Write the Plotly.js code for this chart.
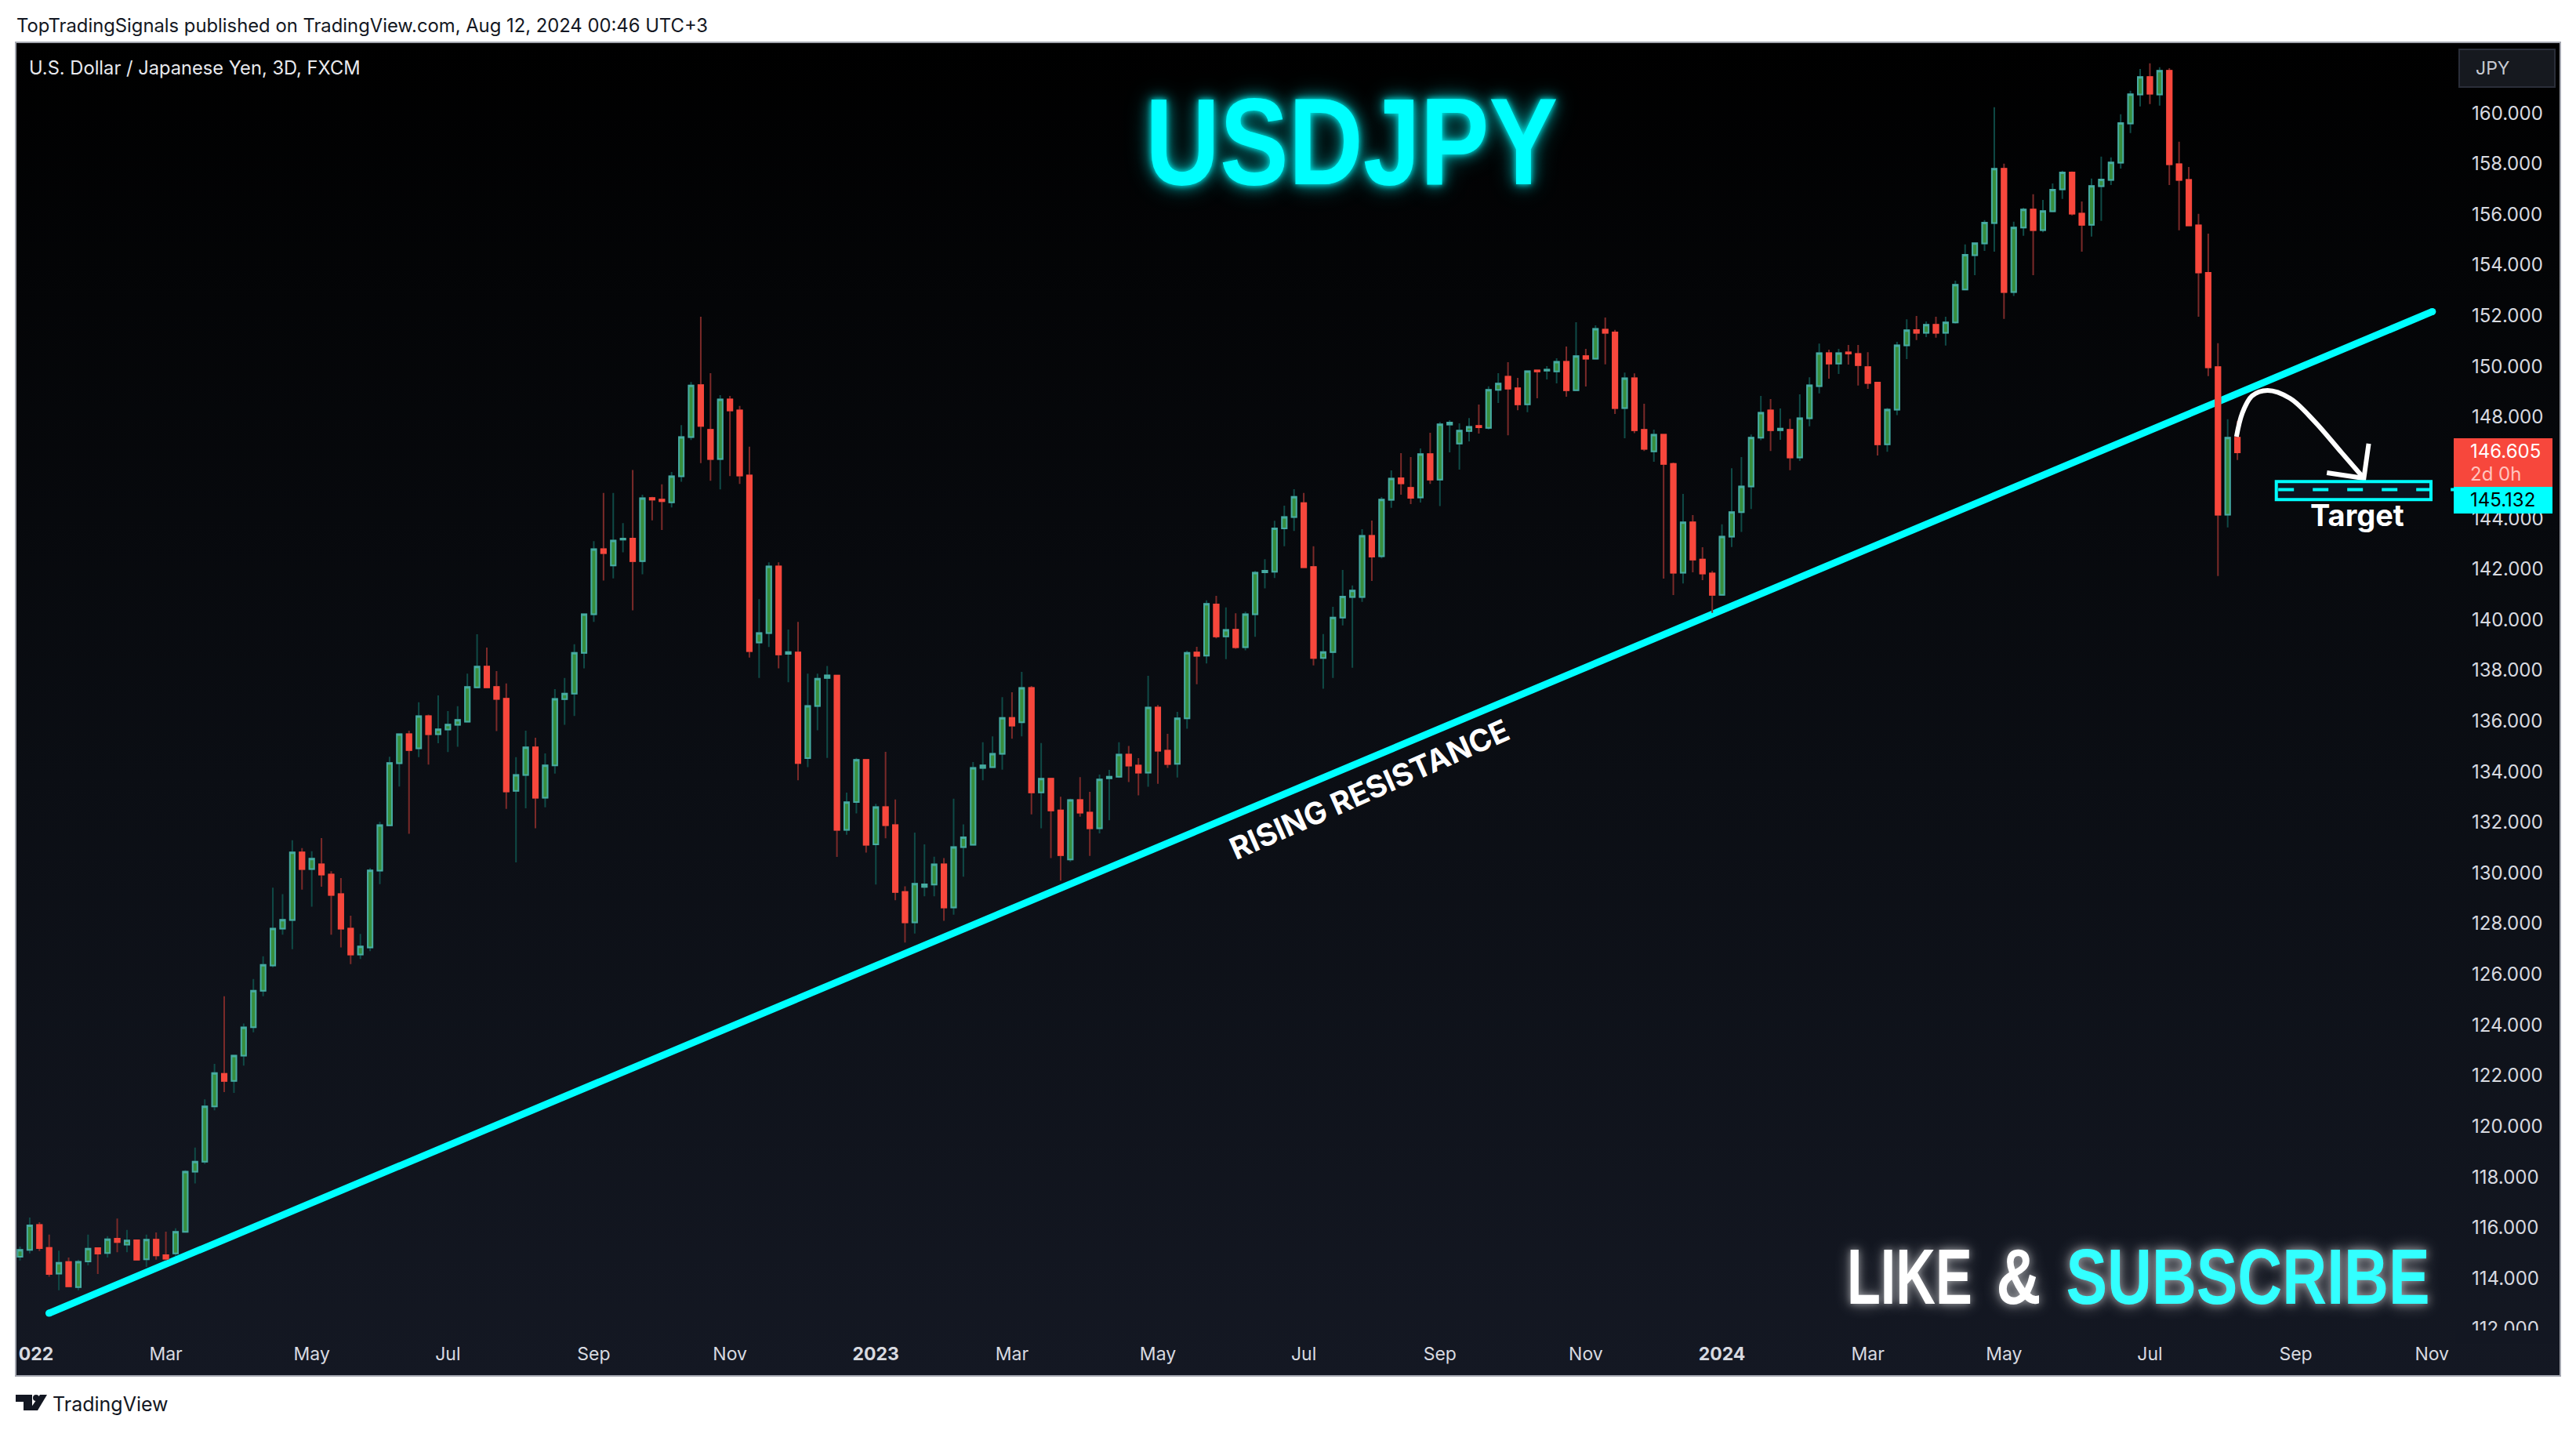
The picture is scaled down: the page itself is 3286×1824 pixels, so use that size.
<!DOCTYPE html>
<html>
<head>
<meta charset="utf-8">
<title>USDJPY</title>
<script src="https://cdn.plot.ly/plotly-3.0.1.min.js"></script>
<style>
html,body{margin:0;padding:0;width:3286px;height:1824px;background:#fff;overflow:hidden}
#panel{position:absolute;left:19px;top:53px;width:3244px;height:1699px;border:2px solid #a3a6af;background:linear-gradient(#000 0%,#0b0e14 55%,#141823 100%)}
#chart{position:absolute;left:0;top:0;width:3286px;height:1824px}
</style>
</head>
<body>
<div id="panel"></div>
<div id="chart"></div>
<script>
const opens=[
114.85,115.12,116.10,115.20,114.18,114.64,113.65,114.66,115.19,115.00,
115.56,115.33,115.50,114.75,115.52,114.91,114.98,115.83,118.21,118.60,
120.78,122.07,121.79,122.79,123.91,125.35,126.35,127.80,128.14,130.81,
130.15,130.34,129.94,129.16,127.80,126.78,127.06,130.09,131.88,134.33,
135.48,134.92,136.19,135.48,135.66,135.85,135.97,137.33,138.15,137.34,
136.88,133.24,133.87,134.96,132.97,134.25,136.86,137.08,138.69,140.21,
142.78,142.14,143.16,143.20,142.31,144.80,144.74,144.63,145.66,147.21,
149.26,147.49,146.34,148.69,148.26,145.69,139.10,139.47,142.10,138.65,
138.70,134.53,136.59,137.70,137.79,131.70,132.80,134.46,131.13,132.60,
131.89,129.25,128.05,129.45,129.54,130.34,128.64,131.02,131.11,134.15,
134.18,134.70,136.12,135.95,137.30,133.18,133.72,132.47,130.53,132.88,
132.38,131.76,133.74,133.80,134.67,134.24,133.96,136.53,134.83,134.31,
136.10,138.70,138.58,140.60,139.34,139.60,138.91,140.21,141.87,141.89,
143.60,144.05,144.60,142.08,138.49,138.72,140.08,140.89,140.89,143.31,
142.50,144.73,145.58,145.20,144.82,146.53,145.53,147.70,146.95,147.45,
147.65,147.57,149.07,149.59,149.13,148.50,149.84,149.83,149.80,150.18,
149.06,150.40,150.30,151.45,151.34,148.35,149.53,147.49,146.64,147.30,
146.15,141.85,143.84,142.37,141.82,140.98,143.28,144.24,145.26,147.18,
148.26,147.48,147.49,146.40,147.95,149.22,150.52,150.11,150.55,150.49,
149.97,149.36,146.92,148.29,150.83,151.43,151.32,151.64,151.32,151.73,
153.03,154.39,154.85,155.66,157.80,152.93,155.48,156.19,155.38,156.12,
156.99,157.65,156.03,155.59,157.11,157.36,158.04,159.59,160.73,161.42,
160.73,161.67,157.98,157.36,155.56,153.69,149.97,144.14,147.18];
const highs=[
115.25,116.40,116.21,115.72,115.09,114.82,114.73,115.72,115.19,115.66,
116.36,115.91,115.50,115.72,115.81,115.84,115.97,118.27,119.16,121.06,
122.46,125.13,122.79,124.06,125.81,126.71,129.42,129.16,131.29,130.98,
130.86,131.38,130.07,129.80,128.31,127.59,130.19,132.02,134.59,135.48,
135.62,136.74,136.25,137.01,136.39,136.58,137.87,139.42,138.90,137.97,
137.48,134.57,135.62,135.34,134.72,137.26,137.70,139.03,140.21,143.10,
145.00,145.00,143.81,145.91,144.93,144.85,145.34,145.83,147.68,149.38,
151.96,149.73,148.86,148.83,148.44,146.83,140.81,142.26,142.26,139.61,
139.91,137.87,137.87,138.17,137.79,133.17,134.54,134.46,132.73,134.78,
132.90,129.47,131.59,131.13,130.64,130.59,132.93,131.92,134.38,135.16,
135.39,136.94,137.13,137.94,137.38,135.13,133.75,133.01,132.93,133.78,
133.20,133.88,134.07,135.16,135.01,134.53,137.78,136.63,135.49,136.36,
138.77,138.93,140.76,140.94,140.48,140.25,140.31,141.92,142.39,143.90,
144.50,145.15,145.00,142.90,139.43,140.51,141.96,141.35,143.57,143.91,
144.84,145.89,146.57,146.42,146.76,147.38,147.80,147.87,147.75,147.96,
148.49,149.21,149.73,150.16,149.54,149.84,149.86,150.01,150.32,150.78,
151.74,150.69,151.62,151.93,151.44,149.75,149.72,148.52,147.50,147.31,
146.20,144.96,144.13,142.86,141.92,143.76,145.98,146.42,147.31,148.83,
148.71,148.34,147.93,148.89,149.57,150.90,150.66,150.69,150.84,150.84,
150.56,149.39,148.36,150.97,151.86,151.99,151.77,151.96,151.96,153.38,
154.81,154.86,155.77,160.23,158.00,155.71,156.26,156.79,156.57,157.22,
157.72,157.69,156.51,157.41,158.28,158.25,159.95,160.88,161.74,161.96,
161.81,161.77,158.87,157.87,156.02,155.24,150.91,147.91,147.84];
const lows=[
114.70,114.98,115.07,114.06,113.53,113.65,113.53,114.51,114.17,114.82,
115.03,115.03,114.73,114.45,114.73,114.70,114.88,115.81,117.74,118.51,
120.63,121.35,121.32,122.39,123.71,125.13,126.28,127.56,126.99,129.34,
128.67,129.46,127.56,127.06,126.40,126.60,126.91,129.56,131.88,133.41,
131.55,134.57,134.28,135.12,134.77,134.98,135.97,137.33,137.33,135.60,
132.53,130.42,132.55,131.76,132.59,133.92,135.85,136.20,138.08,139.91,
141.54,141.63,142.66,140.37,141.79,143.92,143.54,144.43,145.44,147.09,
146.18,145.48,145.14,145.67,145.36,138.50,137.70,138.92,138.08,137.53,
133.66,134.18,135.63,134.54,130.63,131.51,132.35,130.80,129.54,131.37,
128.92,127.25,127.61,129.08,129.08,128.11,128.35,129.85,131.11,133.66,
134.18,134.08,135.30,135.39,132.31,131.76,130.59,129.70,130.44,132.22,
130.67,131.56,132.08,133.75,133.59,133.06,133.40,133.52,134.15,133.77,
135.69,137.45,138.27,139.26,138.44,138.85,138.79,139.32,141.23,141.64,
142.90,143.50,142.07,138.19,137.27,137.70,139.77,138.10,140.70,141.53,
142.42,144.41,144.93,144.56,144.62,145.36,144.48,146.60,145.92,147.04,
147.35,147.51,148.55,147.28,148.27,148.19,148.74,149.48,149.33,148.80,
149.03,149.20,150.30,150.08,148.12,147.16,147.36,146.66,146.23,141.62,
140.97,141.43,141.87,141.56,140.27,140.98,142.87,143.46,144.37,147.08,
146.66,147.10,145.90,146.26,147.63,148.93,149.51,149.70,150.07,149.24,
149.11,146.48,146.63,148.07,150.29,151.04,151.15,151.13,150.82,151.69,
153.00,153.60,154.56,154.53,151.87,152.78,155.15,153.60,155.29,156.09,
156.61,155.96,154.53,155.12,155.74,157.16,157.81,159.21,160.26,160.35,
160.29,157.16,155.37,155.56,151.96,149.61,141.72,143.64,146.30];
const closes=[
115.12,116.09,115.19,114.17,114.61,113.68,114.65,115.17,114.97,115.54,
115.43,115.49,114.73,115.52,114.90,114.77,115.83,118.21,118.60,120.78,
122.10,121.79,122.79,123.90,125.35,126.37,127.80,128.15,130.81,130.15,
130.56,129.94,129.13,127.80,126.78,127.10,130.10,131.89,134.34,135.48,
134.85,136.19,135.48,135.67,135.86,136.04,137.34,138.15,137.33,136.87,
133.22,133.87,134.96,132.97,134.25,136.87,137.08,138.69,140.21,142.78,
142.63,143.12,143.20,142.31,144.79,144.74,144.68,145.66,147.21,149.24,
147.65,146.34,148.69,148.26,145.69,138.76,139.47,142.10,138.63,138.72,
134.34,136.59,137.67,137.80,131.70,132.79,134.46,131.11,132.60,131.89,
129.25,128.05,129.57,129.55,130.34,128.64,131.02,131.41,134.15,134.25,
134.70,136.12,135.82,137.30,133.18,133.72,132.47,130.70,132.88,132.38,
131.76,133.69,133.80,134.67,134.24,133.96,136.53,134.83,134.30,136.10,
138.69,138.57,140.62,139.34,139.59,138.91,140.21,141.85,141.93,143.60,
144.05,144.85,142.07,138.49,138.72,140.08,140.91,141.15,143.31,142.49,
144.74,145.57,145.38,144.81,146.53,145.53,147.71,147.78,147.46,147.61,
147.59,149.07,149.32,149.12,148.50,149.81,149.80,149.87,150.18,149.06,
150.40,150.30,151.48,151.32,148.35,149.53,147.48,146.74,147.30,146.15,
141.85,143.84,142.37,141.82,140.98,143.28,144.24,145.26,147.18,148.17,
147.48,147.54,146.40,147.95,149.25,150.52,150.11,150.52,150.50,150.05,
149.34,146.92,148.29,150.83,151.42,151.32,151.64,151.32,151.73,153.22,
154.40,154.86,155.67,157.80,152.93,155.48,156.19,155.38,156.13,156.97,
157.65,156.03,155.59,157.12,157.37,158.05,159.60,160.74,161.42,160.76,
161.67,157.98,157.36,155.56,153.71,149.96,144.14,147.18,146.605];

const tickVals=[1.65,15,30,44,59,73,88,102,117,132,146,161,175,190,204,219,234,248];
const tickLabels=['<b>022</b>','Mar','May','Jul','Sep','Nov','<b>2023</b>','Mar','May','Jul','Sep','Nov','<b>2024</b>','Mar','May','Jul','Sep','Nov'];
const priceTicks=[112,114,116,118,120,122,124,126,128,130,132,134,136,138,140,142,144,148,150,152,154,156,158,160];
const trendX=[2.98,248.05];
const trendY=[112.62,152.16];
const arrowX=[227.9,228.5,229.5,231.1,233.4,235.9,238.7,241.0];
const arrowY=[147.22,148.15,148.83,149.05,148.74,147.84,146.60,145.58];
const headX=[241.5,241.0,237.2];
const headY=[146.95,145.58,145.80];
const targetX=[232.0,247.9];
const targetY=[144.74,145.45];
const targetPrice=145.132;

const L=20,R=3130,T=54,B=1697;
const px=x=>(x-L)/(R-L), py=y=>(B-y)/(B-T);
const idx=opens.map((_,i)=>i);
const FONT='Inter, "Noto Sans", sans-serif';
const DISPLAY='"Liberation Sans", sans-serif';

const wicks={type:'candlestick',x:idx,open:opens,high:highs,low:lows,close:closes,width:0.62,whiskerwidth:0,hoverinfo:'skip',showlegend:false,
 increasing:{line:{color:'#0f4a46',width:2},fillcolor:'rgba(0,0,0,0)'},
 decreasing:{line:{color:'#7b2a29',width:2},fillcolor:'rgba(0,0,0,0)'}};
const bodies={type:'candlestick',x:idx,open:opens,close:closes,
 high:opens.map((o,i)=>Math.max(o,closes[i])),low:opens.map((o,i)=>Math.min(o,closes[i])),
 width:0.62,whiskerwidth:0,hoverinfo:'skip',showlegend:false,
 increasing:{line:{color:'#47aba2',width:2},fillcolor:'#388e3c'},
 decreasing:{line:{color:'#f7473c',width:2},fillcolor:'#f7473c'}};
const arrow={type:'scatter',mode:'lines',x:arrowX,y:arrowY,line:{color:'#fff',width:6,shape:'spline',smoothing:1},hoverinfo:'skip',showlegend:false};
const head={type:'scatter',mode:'lines',x:headX,y:headY,line:{color:'#fff',width:6},hoverinfo:'skip',showlegend:false};

function rectPx(x0,y0,x1,y1,fill,line){return {type:'rect',xref:'paper',yref:'paper',layer:'above',x0:px(x0),x1:px(x1),y0:py(y0),y1:py(y1),fillcolor:fill,line:line||{width:0}};}
function pathPx(pts,fill){return {type:'path',xref:'paper',yref:'paper',layer:'above',fillcolor:fill,line:{width:0},
 path:pts.map((p,i)=>(i?'L':'M')+px(p[0])+','+py(p[1])).join(' ')+' Z'};}
function capShape(x,y){return {type:'circle',layer:'below',xref:'x',yref:'y',xsizemode:'pixel',ysizemode:'pixel',xanchor:x,yanchor:y,x0:-4.5,x1:4.5,y0:-4.5,y1:4.5,fillcolor:'#00ffff',line:{width:0}};}

const shapes=[
 {type:'line',layer:'below',xref:'x',yref:'y',x0:trendX[0],x1:trendX[1],y0:trendY[0],y1:trendY[1],line:{color:'#00ffff',width:9}},
 capShape(trendX[0],trendY[0]),capShape(trendX[1],trendY[1]),
 {type:'rect',layer:'above',xref:'x',yref:'y',x0:targetX[0],x1:targetX[1],y0:targetY[0],y1:targetY[1],fillcolor:'#0c1420',line:{color:'#00ffff',width:4}},
 {type:'line',layer:'above',xref:'x',yref:'y',x0:232.2,x1:250.24,y0:targetPrice,y1:targetPrice,line:{color:'#00ffff',width:4,dash:'20px,24px'}},
 rectPx(3130,559,3256,622,'#f7473c'),
 rectPx(3130,621,3256,655,'#00ffff'),
 rectPx(3137,63,3259,111,'#16191f',{color:'#2a2e39',width:2}),
 rectPx(3132,1697,3262,1714,'#131722'),
 pathPx([[20,1779],[41,1779],[41,1799],[30,1799],[30,1788],[20,1788]],'#131722'),
 pathPx([[51,1779],[60,1779],[48,1799],[37,1799]],'#131722'),
 {type:'circle',layer:'above',xref:'paper',yref:'paper',x0:px(42),x1:px(50),y0:py(1779),y1:py(1787),fillcolor:'#131722',line:{width:0}}
];

function note(text,x,y,size,color){return {text:text,xref:'paper',yref:'paper',x:px(x),y:py(y),showarrow:false,xanchor:'left',yanchor:'middle',
 font:{family:FONT,size:size,color:color},borderpad:0};}
function big(text,x,y,size,color,shadow){return {text:text,xref:'paper',yref:'paper',x:px(x),y:py(y),showarrow:false,xanchor:'center',yanchor:'middle',
 font:{family:DISPLAY,size:size,color:color,weight:700,shadow:shadow}};}
const glowC='0 0 8px rgba(0,255,255,.85), 0 0 20px rgba(0,255,255,.65), 0 0 36px rgba(0,255,255,.35)';
const glowW='0 0 12px rgba(255,255,255,.5), 0 0 24px rgba(255,255,255,.4)';
const annotations=[
 note('TopTradingSignals published on TradingView.com, Aug 12, 2024 00:46 UTC+3',20,32,23.8,'#131722'),
 note('U.S. Dollar / Japanese Yen, 3D, FXCM',36,86,23.7,'#e8e9ed'),
 note('TradingView',66,1791,25,'#131722'),
 note('JPY',3157,87,23,'#c8cad2'),
 note('146.605',3150,576,24,'#ffffff'),
 note('2d 0h',3150,604,24,'#ffc4bf'),
 note('145.132',3150,638,24,'#000000'),
 big('USDJPY',1724,180,158,'#00ffff',glowC),
 {text:'RISING RESISTANCE',xref:'paper',yref:'paper',x:px(1746),y:py(1006),showarrow:false,xanchor:'center',yanchor:'middle',textangle:-23.8,
  font:{family:FONT,size:38.8,color:'#ffffff',weight:700}},
 {text:'Target',xref:'paper',yref:'paper',x:px(3007),y:py(657),showarrow:false,xanchor:'center',yanchor:'middle',
  font:{family:FONT,size:38,color:'#ffffff',weight:700}},
 big('LIKE',2436,1628,100,'#ffffff',glowW),
 big('&',2575,1628,100,'#ffffff',glowW),
 big('SUBSCRIBE',2867,1628,100,'#33ffff',glowW)
];
const squeezedWidths={'USDJPY':526,'LIKE':160,'&':57,'SUBSCRIBE':464};

const layout={width:3286,height:1824,autosize:false,
 margin:{l:L,r:3286-R,t:T,b:1824-B,pad:0},
 paper_bgcolor:'rgba(0,0,0,0)',plot_bgcolor:'rgba(0,0,0,0)',showlegend:false,
 xaxis:{type:'linear',range:[-0.443,250.24],rangeslider:{visible:false},showgrid:false,zeroline:false,showline:false,ticks:'',
  tickmode:'array',tickvals:tickVals,ticktext:tickLabels,tickangle:0,ticklabelstandoff:14,tickfont:{family:FONT,size:23,color:'#d8dae0'}},
 yaxis:{side:'right',range:[111.94,162.79],showgrid:false,zeroline:false,showline:false,ticks:'',
  tickmode:'array',tickvals:priceTicks,ticktext:priceTicks.map(v=>v.toFixed(3)),ticklabelstandoff:22,tickfont:{family:FONT,size:24,color:'#d8dae0'}},
 shapes:shapes,annotations:annotations};

Plotly.newPlot('chart',[wicks,bodies,arrow,head],layout,{displayModeBar:false,staticPlot:true,responsive:false}).then(()=>{
 document.querySelectorAll('.annotation-text').forEach(t=>{
  const w=squeezedWidths[t.textContent];
  if(w){t.setAttribute('textLength',w);t.setAttribute('lengthAdjust','spacingAndGlyphs');}
 });
});
</script>
</body>
</html>
